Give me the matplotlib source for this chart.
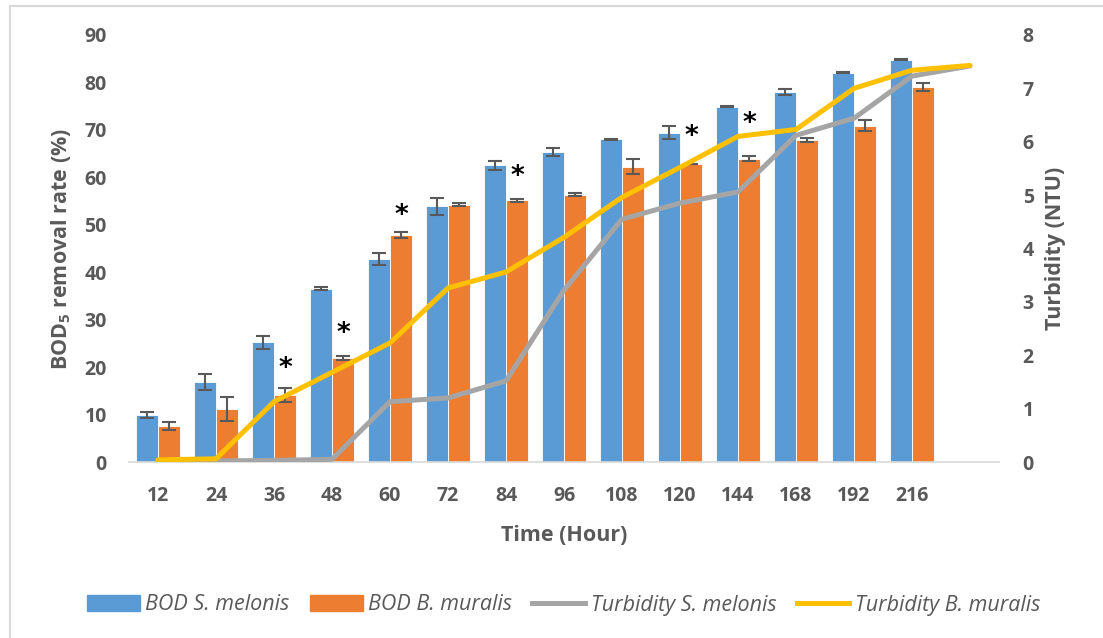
import numpy as np
import matplotlib.pyplot as plt
from matplotlib.patches import Patch, Rectangle
from matplotlib.lines import Line2D

plt.rcParams['font.family'] = ['Open Sans', 'DejaVu Sans']
plt.rcParams['mathtext.fontset'] = 'custom'
plt.rcParams['mathtext.rm'] = 'Open Sans'
plt.rcParams['mathtext.bf'] = 'Open Sans:bold'

# sampling times (h); the last slot carries only the turbidity end point
hours = ['12', '24', '36', '48', '60', '72', '84', '96', '108', '120', '144', '168', '192', '216', '']

bod_melonis = [9.9, 16.9, 25.2, 36.5, 42.8, 53.9, 62.5, 65.3, 68.0, 69.4, 74.9, 78.0, 82.0, 84.8]
bod_melonis_err = [0.6, 1.7, 1.4, 0.3, 1.2, 1.8, 0.9, 0.8, 0.1, 1.4, 0.1, 0.6, 0.1, 0.1]
bod_muralis = [7.6, 11.2, 14.1, 21.9, 47.9, 54.2, 55.2, 56.3, 62.2, 62.9, 63.9, 67.9, 70.9, 79.1]
bod_muralis_err = [0.9, 2.6, 1.5, 0.4, 0.6, 0.3, 0.3, 0.3, 1.6, 0.0, 0.5, 0.4, 1.2, 0.8]

turb_melonis = [0.0, 0.02, 0.03, 0.05, 1.13, 1.2, 1.52, 3.22, 4.55, 4.85, 5.06, 6.12, 6.44, 7.23, 7.42]
turb_muralis = [0.04, 0.06, 1.13, 1.68, 2.23, 3.26, 3.56, 4.21, 4.96, 5.52, 6.1, 6.23, 7.0, 7.34, 7.43]

# bars of B. muralis marked as significant, and how far above the error bar the mark sits
star_idx = [2, 3, 4, 6, 9, 10]
star_gap = [4.0, 4.7, 3.4, 4.5, 5.5, 6.9]

c_blue = '#5B9BD5'
c_orange = '#ED7D31'
c_gray = '#A5A5A5'
c_yellow = '#FFC000'
c_text = '#595959'

fig = plt.figure(figsize=(11.03, 6.38), dpi=100)
ax = fig.add_axes([129 / 1103, 1 - 462 / 638, 870 / 1103, 427 / 638])
ax2 = ax.twinx()

# chart border
fig.patches.append(Rectangle((10 / 1103, -0.1), 1.2, 1 - 6 / 638 + 0.1, transform=fig.transFigure,
                             fill=False, edgecolor='#D9D9D9', linewidth=1.5))

x = np.arange(len(hours))
n = len(bod_melonis)
w = 0.38
err_kw = dict(ecolor='#595959', elinewidth=1.5, capsize=5, capthick=1.5)
ax.bar(x[:n] - w / 2, bod_melonis, w, yerr=bod_melonis_err, color=c_blue,
       edgecolor='white', linewidth=0.6, error_kw=err_kw)
ax.bar(x[:n] + w / 2, bod_muralis, w, yerr=bod_muralis_err, color=c_orange,
       edgecolor='white', linewidth=0.6, error_kw=err_kw)

for i, gap in zip(star_idx, star_gap):
    ax.text(x[i] + w / 2, bod_muralis[i] + bod_muralis_err[i] + gap, '*', ha='center', va='center',
            fontsize=19, fontweight='bold', color='black', family='DejaVu Sans')

ax2.plot(x, turb_melonis, color=c_gray, linewidth=3.6, solid_capstyle='round', solid_joinstyle='round')
ax2.plot(x, turb_muralis, color=c_yellow, linewidth=3.6, solid_capstyle='round', solid_joinstyle='round')

ax.set_xlim(-0.5, len(hours) - 0.5)
ax.set_ylim(0, 90)
ax2.set_ylim(0, 8)
ax.set_yticks(np.arange(0, 91, 10))
ax2.set_yticks(np.arange(0, 9, 1))
ax.set_xticks(x)
ax.set_xticklabels(hours)

for a in (ax, ax2):
    for s in a.spines.values():
        s.set_visible(False)
    a.tick_params(length=0, labelsize=14, labelcolor=c_text)
    for lab in a.get_xticklabels() + a.get_yticklabels():
        lab.set_fontweight('bold')
ax.spines['bottom'].set_visible(True)
ax.spines['bottom'].set_color('#D9D9D9')
ax.spines['bottom'].set_linewidth(1.2)
ax.tick_params(axis='x', pad=17)
ax.tick_params(axis='y', pad=16)
ax2.tick_params(axis='y', pad=17)

ax.set_xlabel('Time (Hour)', fontsize=15.5, fontweight='bold', color=c_text, labelpad=14)
ax.set_ylabel(r'BOD$_\mathbf{5}$ removal rate (%)', fontsize=15.5, fontweight='bold', color=c_text, labelpad=8)
ax2.set_ylabel('Turbidity (NTU)', fontsize=15.5, fontweight='bold', color=c_text, labelpad=8)

handles = [Patch(color=c_blue), Patch(color=c_orange),
           Line2D([], [], color=c_gray, linewidth=3.6), Line2D([], [], color=c_yellow, linewidth=3.6)]
labels = ['BOD S. melonis', 'BOD B. muralis', 'Turbidity S. melonis', 'Turbidity B. muralis']
leg = fig.legend(handles, labels, loc='center', bbox_to_anchor=(0.511, 1 - 605 / 638), ncol=4,
                 frameon=False, handlelength=2.45, handletextpad=0.25, columnspacing=0.95,
                 prop={'family': 'Open Sans', 'style': 'italic', 'size': 15.5})
for t in leg.get_texts():
    t.set_color(c_text)

fig.savefig('out.png', dpi=100)
